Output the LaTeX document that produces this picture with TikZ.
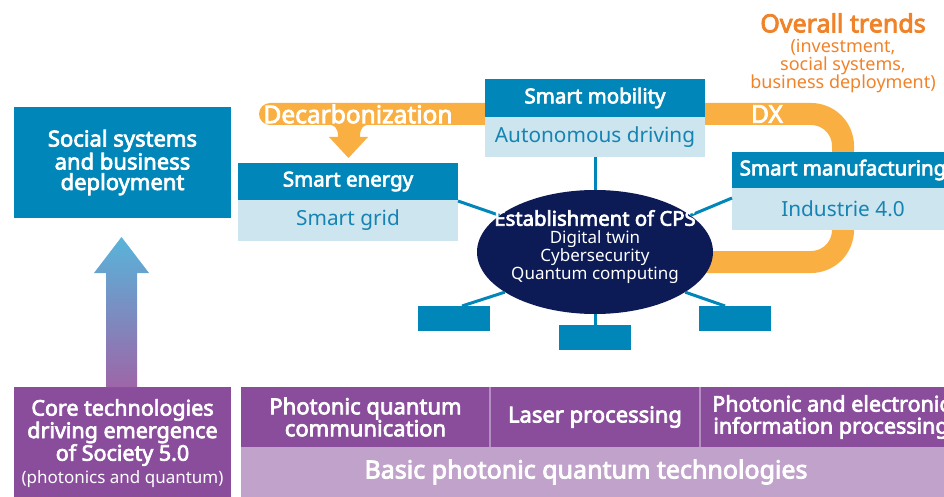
\documentclass[tikz,border=0pt]{standalone}
\usepackage{fontspec}
\setmainfont{Noto Sans}[BoldFont={Noto Sans}, BoldFeatures={FakeBold=3.3}]
\usetikzlibrary{shapes.geometric}
\definecolor{cblue}{HTML}{0086B8}
\definecolor{lblue}{HTML}{CDE5EF}
\definecolor{tblue}{HTML}{1584B3}
\definecolor{navy}{HTML}{0C1A56}
\definecolor{band}{HTML}{FAAF42}
\definecolor{otxt}{HTML}{F08228}
\definecolor{purp}{HTML}{8A4D9C}
\definecolor{lpurp}{HTML}{C0A2CB}
\definecolor{divl}{HTML}{B58EC3}
\definecolor{atop}{HTML}{58B4DA}
\definecolor{abot}{HTML}{9D66A8}
\newcommand{\fsz}[2]{\fontsize{#1}{#2}\selectfont}
\begin{document}
\begin{tikzpicture}[x=1pt,y=-1pt,
  cell/.style={inner sep=0pt, outer sep=0pt, align=center},
  darkcell/.style={cell, fill=cblue, text=white, font=\bfseries\fsz{20.5}{24}},
  lightcell/.style={cell, fill=lblue, text=tblue, font=\fsz{20.8}{24}},
  purpcell/.style={cell, fill=purp, text=white, font=\bfseries\fsz{22}{22}},
  conn/.style={draw=cblue, line width=3pt},
  smallbox/.style={cell, fill=cblue, minimum width=72pt, minimum height=25pt}]
\useasboundingbox (0,0) rectangle (944,497);
\clip (0,0) rectangle (944,497);

% orange band
\draw[band, line width=22pt, rounded corners=32pt, line cap=round]
  (270,114) -- (843,114) -- (843,262) -- (680,262);
\fill[band] (322,124) .. controls (336,124) and (338,128) .. (338,137)
  -- (360,137) .. controls (360,128) and (362,124) .. (376,124) -- cycle;
\fill[band] (338,112) rectangle (360,139);
\fill[band] (329,137) -- (368,137) -- (348.5,158) -- cycle;

% left column
\node[darkcell, font=\bfseries\fsz{22}{20.5}, minimum width=217pt, minimum height=111pt] (soc) at (122.5,162.5)
  {Social systems\\and business\\deployment};
\node[purpcell, font=\bfseries\fsz{21.5}{21}, minimum width=217pt, minimum height=113pt] (core) at (122.5,443.5)
  {Core technologies\\driving emergence\\of Society 5.0\\[2pt]{\mdseries\fsz{17}{18}(photonics and quantum)}};
\shade[top color=atop, bottom color=abot]
  (106,387) -- (106,273) -- (94,273) -- (121.5,237) -- (149,273) -- (137,273) -- (137,387) -- cycle;

% bottom row
\node[purpcell, minimum width=249pt, minimum height=60pt] (pqc) at (365.5,417) {Photonic quantum\\communication};
\node[purpcell, minimum width=210pt, minimum height=60pt] (lp) at (595,417) {Laser processing};
\node[purpcell, minimum width=262pt, minimum height=60pt, font=\bfseries\fsz{21.5}{22}] (pei) at (831,417) {Photonic and electronic\\information processing};
\draw[divl, line width=1.5pt] (pqc.north east) -- (pqc.south east);
\draw[divl, line width=1.5pt] (lp.north east) -- (lp.south east);
\node[cell, fill=lpurp, minimum width=720pt, minimum height=53pt, anchor=north west] (bpq) at (241,447) {};
\node[cell, text=white, font=\bfseries\fsz{25}{25}] (bpqt) at (586,472) {Basic photonic quantum technologies};

% application boxes
\node[darkcell, minimum width=220pt, minimum height=38pt] (mobT) at (595,98) {Smart mobility};
\node[lightcell, minimum width=220pt, minimum height=40pt] (mobB) at (595,137) {Autonomous driving};
\node[darkcell, minimum width=220pt, minimum height=37pt] (enT) at (348,181.5) {Smart energy};
\node[lightcell, minimum width=220pt, minimum height=41pt] (enB) at (348,220.5) {Smart grid};
\node[darkcell, minimum width=222pt, minimum height=36pt] (manT) at (843,170) {Smart manufacturing};
\node[lightcell, minimum width=222pt, minimum height=42pt] (manB) at (843,209) {Industrie 4.0};

\node[smallbox] (s1) at (454,318.5) {};
\node[smallbox] (s2) at (595,337.5) {};
\node[smallbox] (s3) at (735,318.5) {};

% CPS ellipse
\node[ellipse, fill=navy, inner sep=0pt, minimum width=236pt, minimum height=124pt] (cps) at (595,252) {};
\draw[conn] (mobB.south) -- (cps.north);
\draw[conn] ([yshift=-1pt]enB.north east) -- (cps.159);
\draw[conn] ([yshift=-10pt]manB.north west) -- (cps.21);
\draw[conn] ([xshift=8pt]s1.north) -- (cps.204);
\draw[conn] (cps.south) -- (s2.north);
\draw[conn] ([xshift=-10pt]s3.north) -- (cps.-24);
\node[cell, text=white, font=\fsz{17}{18}] (cpst) at (595,247)
  {{\bfseries\fsz{20.3}{22}Establishment of CPS}\\Digital twin\\Cybersecurity\\Quantum computing};

% band labels
\node[cell, text=white, font=\bfseries\fsz{24.5}{25}] (decarb) at (358,114) {Decarbonization};
\node[cell, text=white, font=\bfseries\fsz{24.5}{25}] (dx) at (767,114) {DX};

% overall trends
\node[cell, text=otxt, font=\bfseries\fsz{25}{25}] (ot) at (843,23) {Overall trends};
\node[cell, text=otxt, font=\fsz{18}{18}] (ots) at (843,66)
  {(investment,\\social systems,\\business deployment)};
\end{tikzpicture}
\end{document}
